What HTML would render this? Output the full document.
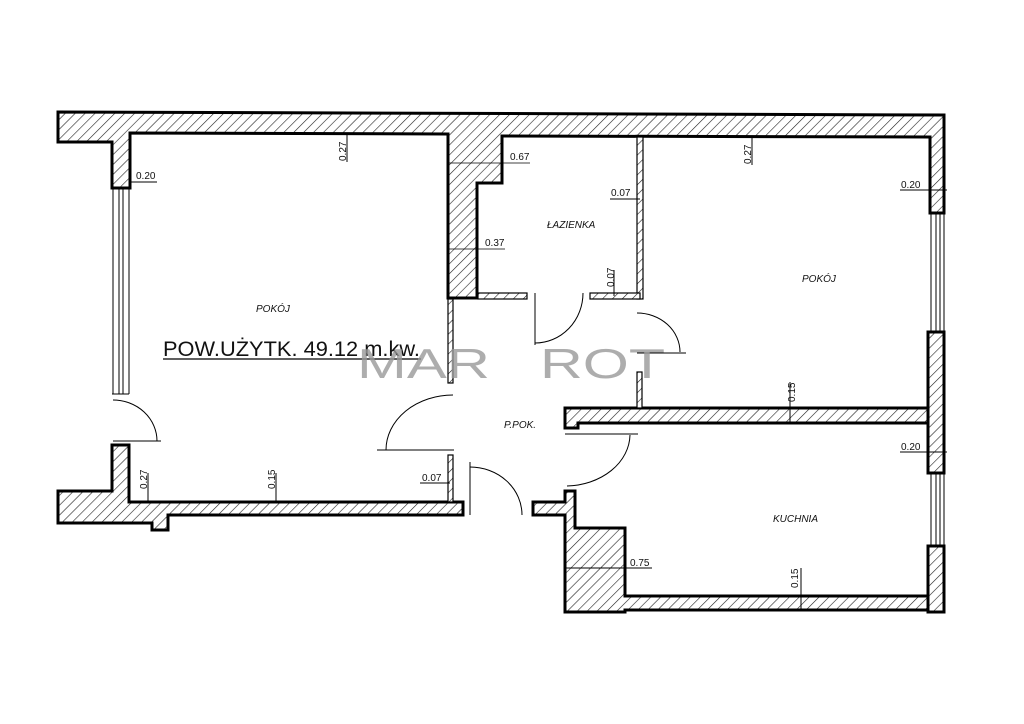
<!DOCTYPE html>
<html><head><meta charset="utf-8"><style>
html,body{margin:0;padding:0;background:#fff;}
svg{display:block;}
text{font-family:"Liberation Sans",sans-serif;}
</style></head><body>
<svg width="1024" height="724" viewBox="0 0 1024 724" xmlns="http://www.w3.org/2000/svg">
<defs>
<pattern id="h" patternUnits="userSpaceOnUse" width="7" height="7" patternTransform="rotate(45)">
<rect width="7" height="7" fill="#fff"/>
<line x1="0" y1="0" x2="0" y2="7" stroke="#222" stroke-width="1.2"/>
</pattern>
</defs>
<g fill="url(#h)" stroke="#000" stroke-width="3" stroke-linejoin="miter">
<path d="M58,112 L944,115 L944,213 L930,213 L930,137 L502,136 L502,183 L477,183 L477,298 L448,298 L448,134 L130,133 L130,188 L112,188 L112,142 L58,142 Z"/>
<rect x="928" y="332" width="16" height="141"/>
<rect x="928" y="546" width="16" height="66"/>
<path d="M565,408 L928,408 L928,423 L578,423 L578,428 L565,428 Z"/>
<path d="M533,502 L565,502 L565,491 L575,491 L575,528 L625,528 L625,596 L928,596 L928,610 L625,610 L625,612 L565,612 L565,515 L533,515 Z"/>
<path d="M112,445 L129,445 L129,502 L463,502 L463,515 L168,515 L168,530 L152,530 L152,523 L58,523 L58,491 L112,491 Z"/>
</g>
<g fill="url(#h)" stroke="#000" stroke-width="1.2">
<rect x="637" y="137" width="6" height="162"/>
<rect x="478" y="293" width="49" height="6"/>
<rect x="590" y="293" width="50" height="6"/>
<rect x="448" y="299" width="5" height="84"/>
<rect x="448" y="455" width="5" height="47"/>
<rect x="637" y="372" width="5" height="36"/>
</g>
<g stroke="#000" stroke-width="1" fill="none">
<line x1="113" y1="188" x2="113" y2="394"/><line x1="119" y1="188" x2="119" y2="394"/><line x1="123" y1="188" x2="123" y2="394"/><line x1="129" y1="188" x2="129" y2="394"/>
<line x1="112" y1="394" x2="129" y2="394"/>
<line x1="931" y1="213" x2="931" y2="332"/><line x1="936" y1="213" x2="936" y2="332"/><line x1="940" y1="213" x2="940" y2="332"/><line x1="944" y1="213" x2="944" y2="332"/>
<line x1="931" y1="473" x2="931" y2="546"/><line x1="936" y1="473" x2="936" y2="546"/><line x1="940" y1="473" x2="940" y2="546"/><line x1="944" y1="473" x2="944" y2="546"/>
<path d="M113,400 A44,41 0 0 1 157,441"/><line x1="113" y1="441" x2="161" y2="441"/>
<path d="M453,395 A67,55 0 0 0 386,450"/><line x1="377" y1="450" x2="454" y2="450"/>
<line x1="470" y1="462" x2="470" y2="515"/><path d="M470,467 A52,48 0 0 1 522,515"/>
<line x1="535" y1="293" x2="535" y2="345"/><path d="M535,343 A48,50 0 0 0 583,293"/>
<path d="M637,313 A43,39 0 0 1 680,352"/><line x1="637" y1="353" x2="686" y2="353"/>
<line x1="565" y1="434" x2="638" y2="434"/><path d="M630,435 A65,52 0 0 1 567,486"/>
<line x1="347" y1="133" x2="347" y2="162"/>
<line x1="752" y1="137" x2="752" y2="165"/>
<line x1="130" y1="182" x2="157" y2="182"/>
<line x1="448" y1="163" x2="530" y2="163" stroke-width="0.8"/>
<line x1="448" y1="249" x2="505" y2="249" stroke-width="0.8"/>
<line x1="610" y1="199" x2="640" y2="199"/>
<line x1="900" y1="190" x2="947" y2="190"/>
<line x1="900" y1="452" x2="947" y2="452"/>
<line x1="420" y1="483" x2="450" y2="483"/>
<line x1="148" y1="473" x2="148" y2="502"/>
<line x1="276" y1="473" x2="276" y2="502"/>
<line x1="614" y1="270" x2="614" y2="296"/>
<line x1="790" y1="382" x2="790" y2="423"/>
<line x1="801" y1="568" x2="801" y2="610"/>
<line x1="565" y1="568" x2="652" y2="568"/>
<line x1="163" y1="359" x2="421" y2="359" stroke-width="1.3"/>
</g>
<g font-size="10" fill="#111">
<text x="136" y="179">0.20</text>
<text x="510" y="160">0.67</text>
<text x="485" y="246">0.37</text>
<text x="611" y="196">0.07</text>
<text x="901" y="188">0.20</text>
<text x="901" y="450">0.20</text>
<text x="422" y="481">0.07</text>
<text x="630" y="566">0.75</text>
<text transform="translate(346,161) rotate(-90)">0.27</text>
<text transform="translate(751,164) rotate(-90)">0.27</text>
<text transform="translate(147,489) rotate(-90)">0.27</text>
<text transform="translate(275,489) rotate(-90)">0.15</text>
<text transform="translate(614,287) rotate(-90)">0.07</text>
<text transform="translate(795,402) rotate(-90)">0.15</text>
<text transform="translate(798,588) rotate(-90)">0.15</text>
</g>
<g font-size="10" font-style="italic" fill="#111">
<text x="256" y="312">POKÓJ</text>
<text x="547" y="228">ŁAZIENKA</text>
<text x="802" y="282">POKÓJ</text>
<text x="504" y="428">P.POK.</text>
<text x="773" y="522">KUCHNIA</text>
</g>
<text x="163" y="356" font-size="21" fill="#111" textLength="257" lengthAdjust="spacingAndGlyphs">POW.UŻYTK. 49.12 m.kw.</text>
<g font-size="42" fill="#999" fill-opacity="0.8">
<text x="357" y="378" textLength="133" lengthAdjust="spacingAndGlyphs">MAR</text>
<text x="540" y="378" textLength="125" lengthAdjust="spacingAndGlyphs">ROT</text>
</g>
</svg>
</body></html>
